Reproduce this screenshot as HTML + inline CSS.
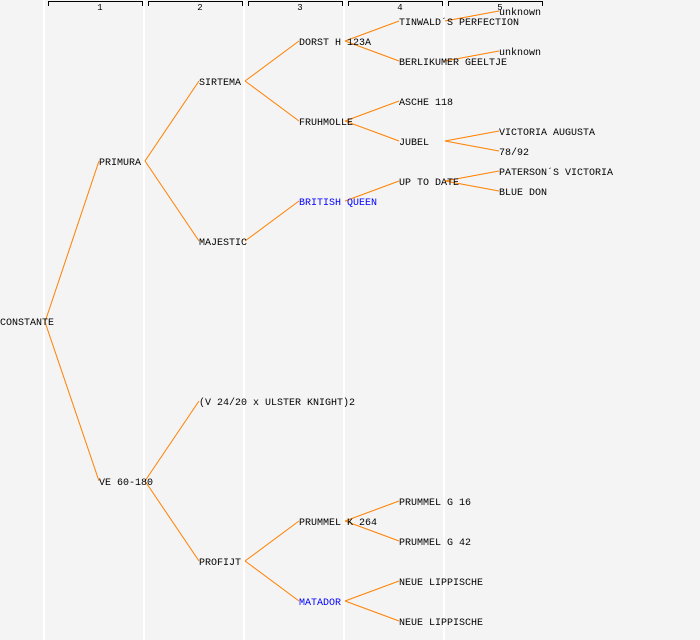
<!DOCTYPE html>
<html><head><meta charset="utf-8"><style>
html,body{margin:0;padding:0;background:#f4f4f4;}
svg{display:block;}
text{font-family:"Liberation Mono",monospace;font-size:10px;}
</style></head><body>
<svg width="700" height="640" xmlns="http://www.w3.org/2000/svg">
<rect width="700" height="640" fill="#f4f4f4"/>
<g stroke="#ffffff" stroke-width="2">
<line x1="44" y1="0" x2="44" y2="640"/><line x1="144" y1="0" x2="144" y2="640"/>
<line x1="244" y1="0" x2="244" y2="640"/><line x1="344" y1="0" x2="344" y2="640"/>
<line x1="444" y1="0" x2="444" y2="640"/>
</g>
<g stroke="#000" stroke-width="1" fill="none">
<path d="M48.5 6V1.5H142.5V6"/><path d="M148.5 6V1.5H242.5V6"/><path d="M248.5 6V1.5H342.5V6"/>
<path d="M348.5 6V1.5H442.5V6"/><path d="M448.5 6V1.5H542.5V6"/>
</g>
<g text-anchor="middle" fill="#000">
<text x="100" y="10" style="font-size:9px">1</text><text x="200" y="10" style="font-size:9px">2</text>
<text x="300" y="10" style="font-size:9px">3</text><text x="400" y="10" style="font-size:9px">4</text>
<text x="500" y="10" style="font-size:9px">5</text>
</g>
<g stroke="#ff8000" stroke-width="1" fill="none">
<path d="M45 322L99 161M45 322L99 481"/>
<path d="M145 161L199 81M145 161L199 241"/>
<path d="M145 481L199 401M145 481L199 561"/>
<path d="M245 81L299 41M245 81L299 121"/>
<path d="M245 241L299 201"/>
<path d="M245 561L299 521M245 561L299 601"/>
<path d="M345 41L399 21M345 41L399 61"/>
<path d="M345 121L399 101M345 121L399 141"/>
<path d="M345 201L399 181"/>
<path d="M345 521L399 501M345 521L399 541"/>
<path d="M345 601L399 581M345 601L399 621"/>
<path d="M445 21L499 11M445 61L499 51"/>
<path d="M445 141L499 131M445 141L499 151"/>
<path d="M445 181L499 171M445 181L499 191"/>
</g>
<g fill="#000">
<text x="0" y="325">CONSTANTE</text>
<text x="99" y="165">PRIMURA</text>
<text x="99" y="485">VE 60-180</text>
<text x="199" y="85">SIRTEMA</text>
<text x="199" y="245">MAJESTIC</text>
<text x="199" y="405">(V 24/20 x ULSTER KNIGHT)2</text>
<text x="199" y="565">PROFIJT</text>
<text x="299" y="45">DORST H 123A</text>
<text x="299" y="125">FRUHMOLLE</text>
<text x="299" y="205" fill="#0000ff">BRITISH QUEEN</text>
<text x="299" y="525">PRUMMEL K 264</text>
<text x="299" y="605" fill="#0000ff">MATADOR</text>
<text x="399" y="25">TINWALD´S PERFECTION</text>
<text x="399" y="65">BERLIKUMER GEELTJE</text>
<text x="399" y="105">ASCHE 118</text>
<text x="399" y="145">JUBEL</text>
<text x="399" y="185">UP TO DATE</text>
<text x="399" y="505">PRUMMEL G 16</text>
<text x="399" y="545">PRUMMEL G 42</text>
<text x="399" y="585">NEUE LIPPISCHE</text>
<text x="399" y="625">NEUE LIPPISCHE</text>
<text x="499" y="15">unknown</text>
<text x="499" y="55">unknown</text>
<text x="499" y="135">VICTORIA AUGUSTA</text>
<text x="499" y="155">78/92</text>
<text x="499" y="175">PATERSON´S VICTORIA</text>
<text x="499" y="195">BLUE DON</text>
</g>
</svg>
</body></html>
